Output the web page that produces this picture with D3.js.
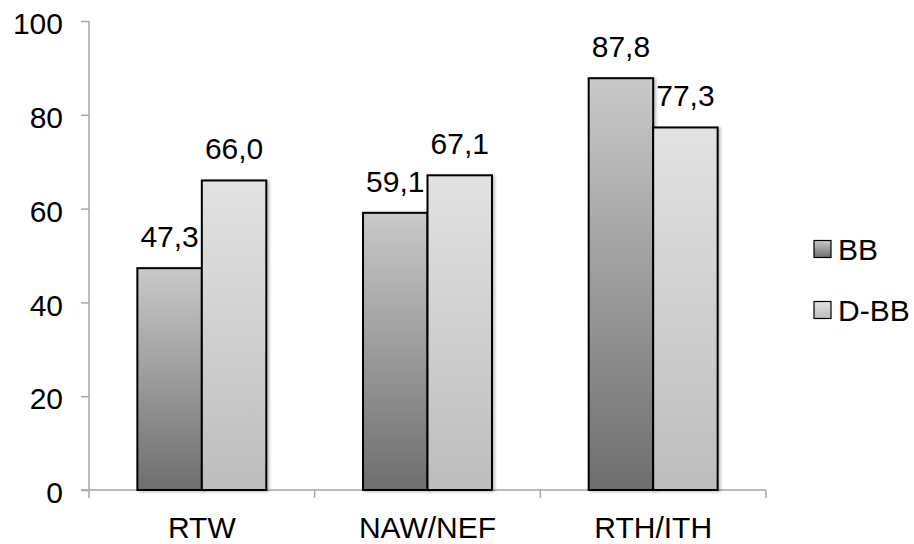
<!DOCTYPE html>
<html><head><meta charset="utf-8">
<script src="https://cdn.jsdelivr.net/npm/d3@7"></script>
<style>body{margin:0;background:#fff}svg{display:block;font-family:"Liberation Sans",Arial,sans-serif}</style>
</head><body><svg id="c" width="914" height="544"></svg>
<script>
const categories = ["RTW", "NAW/NEF", "RTH/ITH"];
const seriesNames = ["BB", "D-BB"];
const bbValues = [47.3, 59.1, 87.8];
const dbbValues = [66.0, 67.1, 77.3];
const yTicks = [0, 20, 40, 60, 80, 100];

const FS = 30;
const svg = d3.select("#c");
const m = {l: 89, r: 766, t: 21, b: 490};
const x = d3.scaleBand().domain(categories).range([m.l, m.r]).paddingInner(0).paddingOuter(0);
const y = d3.scaleLinear().domain([0, 100]).range([m.b, m.t]);
const x1 = d3.scaleBand().domain(seriesNames).range([0, x.bandwidth()]).paddingOuter(0.75).paddingInner(0);

const defs = svg.append("defs");
const g1 = defs.append("linearGradient").attr("id", "gBB").attr("x1", 0).attr("y1", 1).attr("x2", 0).attr("y2", 0);
g1.append("stop").attr("offset", "0%").attr("stop-color", "#6e6e6e");
g1.append("stop").attr("offset", "100%").attr("stop-color", "#c9c9c9");
const g2 = defs.append("linearGradient").attr("id", "gDBB").attr("x1", 0).attr("y1", 1).attr("x2", 0).attr("y2", 0);
g2.append("stop").attr("offset", "0%").attr("stop-color", "#bdbdbd");
g2.append("stop").attr("offset", "100%").attr("stop-color", "#e2e2e2");
const f = defs.append("filter").attr("id", "sh").attr("x", "-20%").attr("y", "-20%").attr("width", "140%").attr("height", "140%");
f.append("feDropShadow").attr("dx", 2).attr("dy", 1).attr("stdDeviation", 1.5).attr("flood-color", "#000").attr("flood-opacity", 0.25);

const fills = {"BB": "url(#gBB)", "D-BB": "url(#gDBB)"};
const seriesVals = {"BB": bbValues, "D-BB": dbbValues};

// axes
const yAxis = svg.append("g").attr("transform", `translate(${m.l},0)`)
  .call(d3.axisLeft(y).tickValues(yTicks).tickSize(8).tickPadding(18).tickFormat(d3.format("d")));
yAxis.select(".domain").attr("stroke", "#a6a6a6").attr("stroke-width", 1.5).attr("d", `M0,${m.t}V${m.b}`);
yAxis.selectAll(".tick line").attr("stroke", "#a6a6a6").attr("stroke-width", 1.5);
yAxis.selectAll("text").attr("font-size", FS).attr("dy", "0.42em").attr("fill", "#000").attr("font-family", "Liberation Sans, Arial, sans-serif");

const xAxis = svg.append("g").attr("transform", `translate(0,${m.b})`)
  .call(d3.axisBottom(x).tickSize(0).tickPadding(27));
xAxis.select(".domain").attr("stroke", "#a6a6a6").attr("stroke-width", 1.5).attr("d", `M${m.l - 8},0H${m.r}`);
xAxis.selectAll("text").attr("font-size", FS).attr("fill", "#000").attr("font-family", "Liberation Sans, Arial, sans-serif");
const xt = [m.l, ...categories.map(c => x(c) + x.bandwidth())];
svg.append("g").selectAll("line").data(xt).join("line")
  .attr("x1", d => d).attr("x2", d => d).attr("y1", m.b).attr("y2", m.b + 8)
  .attr("stroke", "#a6a6a6").attr("stroke-width", 1.5);

// bars
const fmt = v => v.toFixed(1).replace(".", ",");
seriesNames.forEach(s => {
  const vals = seriesVals[s];
  svg.append("g").selectAll("rect").data(categories).join("rect")
    .attr("x", (c) => x(c) + x1(s))
    .attr("y", (c, i) => y(vals[i]))
    .attr("width", x1.bandwidth())
    .attr("height", (c, i) => y(0) - y(vals[i]))
    .attr("fill", fills[s]).attr("stroke", "#000").attr("stroke-width", 2)
    .attr("filter", "url(#sh)");
});
seriesNames.forEach(s => {
  const vals = seriesVals[s];
  svg.append("g").selectAll("text").data(categories).join("text")
    .attr("x", (c) => x(c) + x1(s) + x1.bandwidth() / 2)
    .attr("y", (c, i) => y(vals[i]) - 21)
    .attr("text-anchor", "middle").attr("font-size", FS).attr("fill", "#000")
    .text((c, i) => fmt(vals[i]));
});

// legend
const lg = svg.append("g");
seriesNames.forEach((s, i) => {
  const yy = 249 + i * 61;
  lg.append("rect").attr("x", 814).attr("y", yy - 8.5).attr("width", 17).attr("height", 17)
    .attr("fill", fills[s]).attr("stroke", "#000").attr("stroke-width", 1.2);
  lg.append("text").attr("x", 838).attr("y", yy + 11).attr("font-size", FS).attr("fill", "#000").text(s);
});
</script></body></html>
